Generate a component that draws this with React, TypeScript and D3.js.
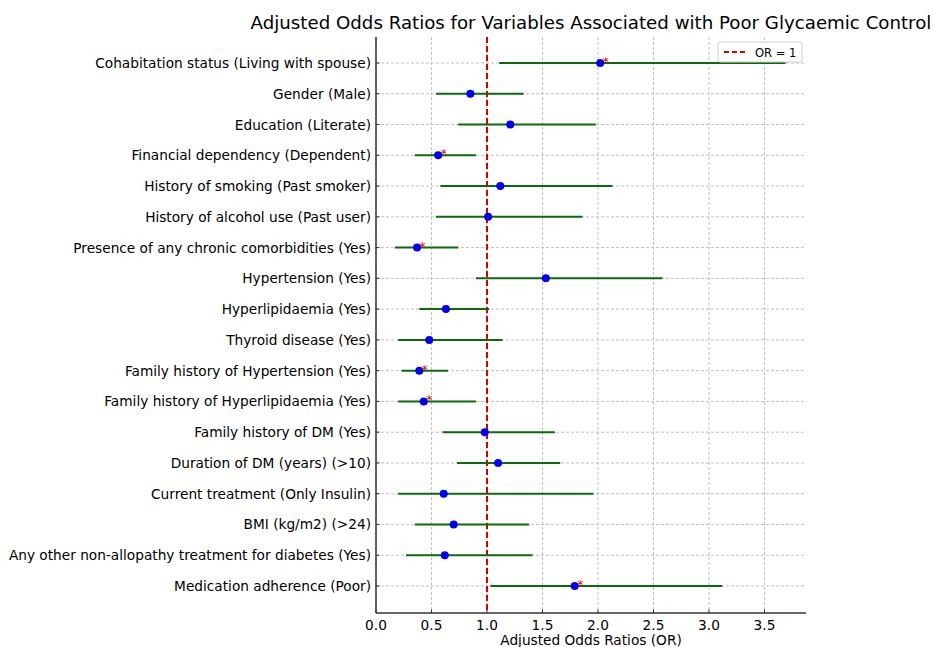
import { useEffect, useRef } from 'react';
import * as d3 from 'd3';

const variables = [
  'Cohabitation status (Living with spouse)',
  'Gender (Male)',
  'Education (Literate)',
  'Financial dependency (Dependent)',
  'History of smoking (Past smoker)',
  'History of alcohol use (Past user)',
  'Presence of any chronic comorbidities (Yes)',
  'Hypertension (Yes)',
  'Hyperlipidaemia (Yes)',
  'Thyroid disease (Yes)',
  'Family history of Hypertension (Yes)',
  'Family history of Hyperlipidaemia (Yes)',
  'Family history of DM (Yes)',
  'Duration of DM (years) (>10)',
  'Current treatment (Only Insulin)',
  'BMI (kg/m2) (>24)',
  'Any other non-allopathy treatment for diabetes (Yes)',
  'Medication adherence (Poor)',
];
const oddsRatios = [2.02, 0.85, 1.21, 0.56, 1.12, 1.01, 0.37, 1.53, 0.63, 0.48, 0.39, 0.43, 0.98, 1.1, 0.61, 0.7, 0.62, 1.79];
const ciLower = [1.11, 0.54, 0.74, 0.35, 0.58, 0.54, 0.17, 0.9, 0.39, 0.2, 0.23, 0.2, 0.6, 0.73, 0.2, 0.35, 0.27, 1.03];
const ciUpper = [3.69, 1.33, 1.98, 0.9, 2.13, 1.86, 0.74, 2.58, 1.02, 1.14, 0.65, 0.9, 1.61, 1.66, 1.96, 1.38, 1.41, 3.12];
const significant = [true, false, false, true, false, false, true, false, false, false, true, true, false, false, false, false, false, true];
const xTicks = [0, 0.5, 1, 1.5, 2, 2.5, 3, 3.5];

const App = () => {
  const svgRef = useRef<SVGSVGElement>(null);

  useEffect(() => {
    const svg = d3.select(svgRef.current);
    svg.selectAll('*').remove();

    const width = 933;
    const height = 647;
    const margin = { top: 37, right: 127, bottom: 34, left: 376 };
    const font = 'DejaVu Sans, sans-serif';

    svg.attr('width', width).attr('height', height)
      .style('position', 'absolute').style('left', 0).style('top', 0);

    const x = d3.scaleLinear().domain([0, 3.874]).range([margin.left, width - margin.right]);
    const y = d3.scalePoint<string>()
      .domain(variables)
      .range([63, 586]);

    const top = margin.top;
    const bottom = height - margin.bottom;

    // grid
    const grid = svg.append('g');
    grid.selectAll('.vg').data(xTicks).enter().append('line')
      .attr('x1', d => x(d)).attr('x2', d => x(d))
      .attr('y1', top).attr('y2', bottom)
      .attr('stroke', '#b0b0b0').attr('stroke-width', 0.8).attr('stroke-dasharray', '3,2');
    grid.selectAll('.hg').data(variables).enter().append('line')
      .attr('x1', margin.left).attr('x2', width - margin.right)
      .attr('y1', d => y(d)!).attr('y2', d => y(d)!)
      .attr('stroke', '#b0b0b0').attr('stroke-width', 0.8).attr('stroke-dasharray', '3,2');

    // OR = 1 reference line
    svg.append('line')
      .attr('x1', x(1)).attr('x2', x(1)).attr('y1', top).attr('y2', bottom)
      .attr('stroke', '#d40000').attr('stroke-width', 2).attr('stroke-dasharray', '6,3');

    // confidence intervals
    svg.append('g').selectAll('line').data(variables).enter().append('line')
      .attr('x1', (d, i) => x(ciLower[i])).attr('x2', (d, i) => x(ciUpper[i]))
      .attr('y1', d => y(d)!).attr('y2', d => y(d)!)
      .attr('stroke', '#0b6b0b').attr('stroke-width', 2);

    // points
    svg.append('g').selectAll('circle').data(variables).enter().append('circle')
      .attr('cx', (d, i) => x(oddsRatios[i])).attr('cy', d => y(d)!)
      .attr('r', 4).attr('fill', '#0000ee');

    // significance markers
    svg.append('g').selectAll('text').data(variables.filter((d, i) => significant[i])).enter()
      .append('text')
      .attr('x', d => x(oddsRatios[variables.indexOf(d)]) + 2.5)
      .attr('y', d => y(d)! + 3)
      .attr('font-family', font).attr('font-size', 12).attr('fill', '#e00000')
      .text('*');

    // axes spines
    svg.append('line').attr('x1', margin.left).attr('x2', margin.left).attr('y1', top).attr('y2', bottom)
      .attr('stroke', '#333').attr('stroke-width', 1.5);
    svg.append('line').attr('x1', margin.left).attr('x2', width - margin.right).attr('y1', bottom).attr('y2', bottom)
      .attr('stroke', '#333').attr('stroke-width', 1.5);

    // x ticks
    const xt = svg.append('g').selectAll('g').data(xTicks).enter().append('g');
    xt.append('line').attr('x1', d => x(d)).attr('x2', d => x(d)).attr('y1', bottom).attr('y2', bottom - 3.5)
      .attr('stroke', '#333');
    xt.append('text').attr('x', d => x(d)).attr('y', bottom + 17)
      .attr('text-anchor', 'middle').attr('font-family', font).attr('font-size', 13.7).attr('fill', '#000')
      .text(d => d3.format('.1f')(d));

    // y ticks
    const yt = svg.append('g').selectAll('g').data(variables).enter().append('g');
    yt.append('line').attr('x1', margin.left).attr('x2', margin.left + 3.5)
      .attr('y1', d => y(d)!).attr('y2', d => y(d)!).attr('stroke', '#333');
    yt.append('text').attr('x', margin.left - 5).attr('y', d => y(d)! + 5)
      .attr('text-anchor', 'end').attr('font-family', font).attr('font-size', 13.7).attr('fill', '#000')
      .text(d => d);

    // labels
    svg.append('text').attr('x', x(0) + (width - margin.right - margin.left) / 2).attr('y', 29)
      .attr('text-anchor', 'middle').attr('font-family', font).attr('font-size', 18.2).attr('fill', '#000')
      .text('Adjusted Odds Ratios for Variables Associated with Poor Glycaemic Control');
    svg.append('text').attr('x', x(0) + (width - margin.right - margin.left) / 2).attr('y', 645)
      .attr('text-anchor', 'middle').attr('font-family', font).attr('font-size', 13.7).attr('fill', '#000')
      .text('Adjusted Odds Ratios (OR)');

    // legend
    const lg = svg.append('g').attr('transform', 'translate(718,42)');
    lg.append('rect').attr('width', 84).attr('height', 20).attr('rx', 2)
      .attr('fill', '#fff').attr('fill-opacity', 0.8).attr('stroke', '#ccc');
    lg.append('line').attr('x1', 6).attr('x2', 30).attr('y1', 10).attr('y2', 10)
      .attr('stroke', '#d40000').attr('stroke-width', 2).attr('stroke-dasharray', '5,3');
    lg.append('text').attr('x', 37).attr('y', 14.5).attr('font-family', font).attr('font-size', 11.5)
      .attr('fill', '#000').text('OR = 1');
  }, []);

  return <svg ref={svgRef}></svg>;
};

export default App;
